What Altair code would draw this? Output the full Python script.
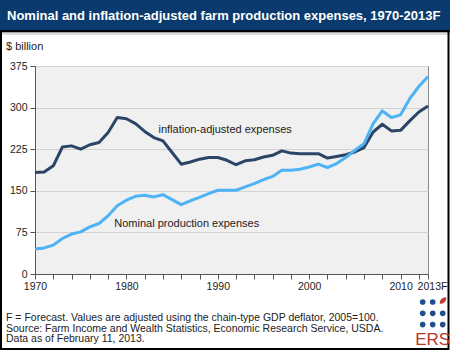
import altair as alt
import pandas as pd

# ---------------- data ----------------
years = list(range(1970, 2014))
adjusted = [183, 184, 195, 229, 231, 225, 233, 237, 255, 282,
            280, 271, 257, 246, 240, 219, 198, 202, 207, 210,
            210, 205, 197, 204, 206, 211, 214, 222, 218, 217,
            217, 217, 209, 212, 215, 220, 228, 256, 270, 258,
            259, 276, 292, 303]
nominal = [45, 47, 52, 64, 72, 76, 85, 91, 105, 123,
           133, 140, 142, 139, 143, 134, 125, 132, 138, 145,
           151, 151, 151, 157, 163, 170, 176, 187, 187, 189,
           193, 198, 192, 199, 210, 223, 235, 271, 294, 282,
           287, 316, 338, 356]
series_names = ["inflation-adjusted expenses", "Nominal production expenses"]
series_colors = ["#2b4566", "#4db3f5"]
y_ticks = [0, 75, 150, 225, 300, 375]
x_ticks = list(range(1970, 2013, 2)) + [2013]
label_x = [1990.8, 1986.6]
label_y = [260, 91]
title_text = "Nominal and inflation-adjusted farm production expenses, 1970-2013F"
unit_text = "$ billion"
notes = [
    "F = Forecast. Values are adjusted using the chain-type GDP deflator, 2005=100.",
    "Source: Farm Income and Wealth Statistics, Economic Research Service, USDA.",
    "Data as of February 11, 2013.",
]
logo_text = "ERS"

FONT = "Liberation Sans"
W, H = 393, 208
PL, PT = 35, 66

df = pd.DataFrame({
    "year": years * 2,
    "value": adjusted + nominal,
    "series": [series_names[0]] * len(years) + [series_names[1]] * len(years),
})
lab_df = pd.DataFrame({"x": label_x, "y": label_y, "t": series_names})

xscale = alt.Scale(domain=[1970, 2013], nice=False, zero=False)
yscale = alt.Scale(domain=[0, 375], nice=False)
color = alt.Color("series:N", scale=alt.Scale(domain=series_names, range=series_colors), legend=None)

x_axis = alt.Axis(values=x_ticks, format="d", title=None, grid=False,
                  labelExpr="datum.value == 2013 ? '2013F' : (datum.value % 10 == 0 ? datum.label : '')",
                  labelOffset={"condition": {"test": "datum.value == 2013", "value": 4}, "value": 0},
                  labelOverlap=False, labelFlush=False, tickSize=5, labelPadding=2)
y_axis = alt.Axis(values=y_ticks, title=None, grid=True, tickSize=5, labelPadding=3,
                  labelOverlap=False)

lines = alt.Chart(df).mark_line(strokeWidth=3, strokeJoin="round").encode(
    x=alt.X("year:Q", scale=xscale, axis=x_axis),
    y=alt.Y("value:Q", scale=yscale, axis=y_axis),
    color=color,
)

labels = alt.Chart(lab_df).mark_text(font=FONT, fontSize=11, color="#222222").encode(
    x=alt.X("x:Q", scale=xscale, axis=x_axis),
    y=alt.Y("y:Q", scale=yscale, axis=y_axis),
    text="t:N")


def one(text=""):
    return alt.Chart(pd.DataFrame({"t": [text]}))


deco = []
# title band and shadow
deco.append(one().mark_rect(color="#0b3b6e").encode(
    x=alt.value(-PL), x2=alt.value(450 - PL), y=alt.value(-PT), y2=alt.value(32 - PT)))
deco.append(one().mark_rect(color="#a8a8a8").encode(
    x=alt.value(-PL), x2=alt.value(450 - PL), y=alt.value(32 - PT), y2=alt.value(33 - PT)))
deco.append(one().mark_rect(color="#dddddd").encode(
    x=alt.value(-PL), x2=alt.value(450 - PL), y=alt.value(33 - PT), y2=alt.value(35 - PT)))
deco.append(one(title_text).mark_text(font=FONT, fontSize=13, fontWeight="bold", color="white",
                                      align="left", baseline="middle").encode(
    x=alt.value(7 - PL), y=alt.value(16 - PT), text="t:N"))
# frame
deco.append(one().mark_rect(fill=None, stroke="black", strokeWidth=2).encode(
    x=alt.value(1 - PL), x2=alt.value(448.5 - PL), y=alt.value(31 - PT), y2=alt.value(349 - PT)))
# unit label
deco.append(one(unit_text).mark_text(font=FONT, fontSize=11, color="#222222",
                                     align="left", baseline="middle").encode(
    x=alt.value(6 - PL), y=alt.value(47 - PT), text="t:N"))
# notes
for i, n in enumerate(notes):
    deco.append(one(n).mark_text(font=FONT, fontSize=10.5, color="#222222",
                                 align="left", baseline="middle").encode(
        x=alt.value(6 - PL), y=alt.value(318 + i * 10.5 - PT), text="t:N"))
# logo
for r in range(3):
    for c in range(3):
        if r == 0 and c == 2:
            continue
        deco.append(one().mark_point(filled=True, color="#1f4f8f", size=32, opacity=1).encode(
            x=alt.value(422.7 + c * 10 - PL), y=alt.value(302 + r * 11.3 - PT)))
deco.append(one().mark_point(filled=True, color="#c0392b", size=45, opacity=1,
                             shape="M -1 1 Q -1 -1 1 -1 Q 1 1 -1 1 Z").encode(
    x=alt.value(443 - PL), y=alt.value(300.5 - PT)))
deco.append(one(logo_text).mark_text(font=FONT, fontSize=17, color="#b5352b",
                                     align="center", baseline="middle").encode(
    x=alt.value(432.7 - PL), y=alt.value(340 - PT), text="t:N"))

chart = alt.layer(lines, labels, *deco).properties(
    width=W, height=H,
    autosize=alt.AutoSizeParams(type="none"),
    padding={"left": PL, "top": PT, "right": 450 - PL - W, "bottom": 352 - PT - H},
    background="white",
).configure_view(
    fill="#f0f0f0", stroke="#8a8a8a", strokeWidth=1
).configure_axis(
    labelFont=FONT, labelFontSize=10.5, labelColor="#222222", labelOverlap=False,
    domainColor="#555555", tickColor="#555555", gridColor="#d2d2d2", gridWidth=1,
)

chart.save("out.html", embed_options={"renderer": "svg", "actions": False})
